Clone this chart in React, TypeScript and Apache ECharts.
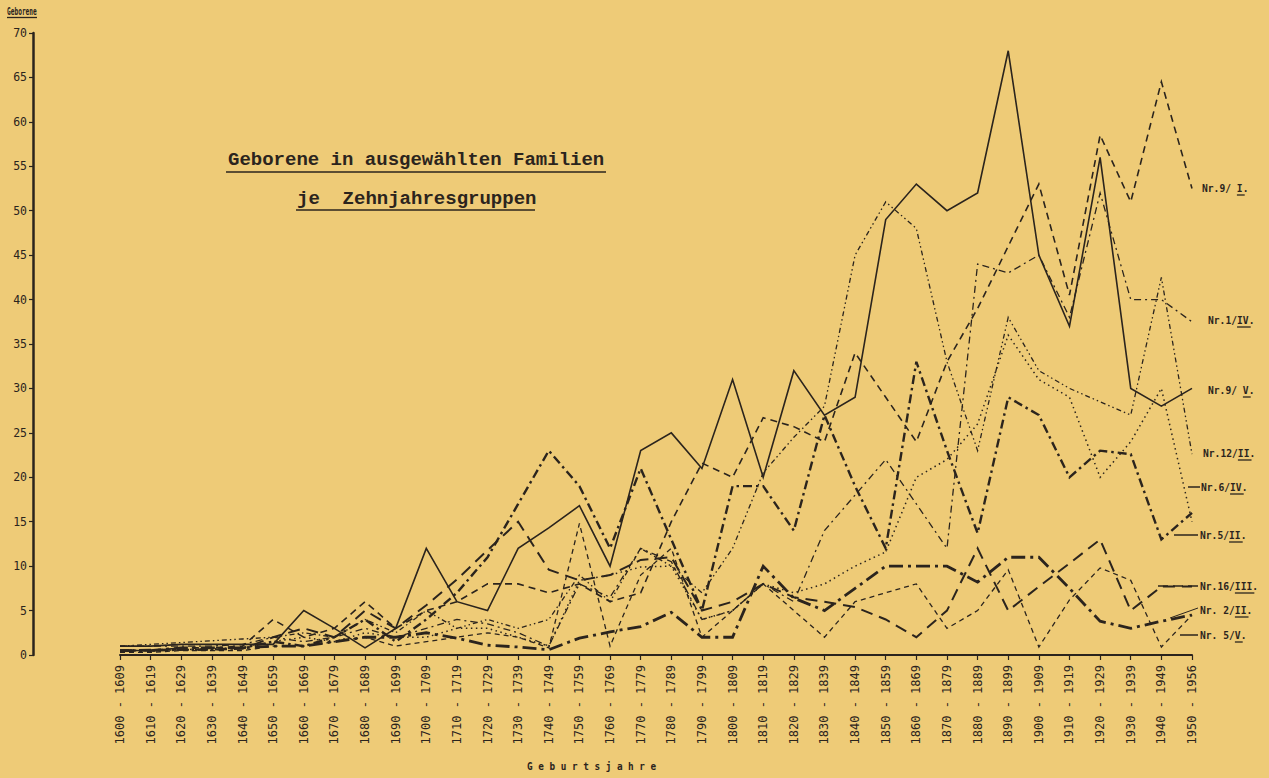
import React, { useEffect, useRef } from 'react';
import * as echarts from 'echarts';

const periods = [
  '1600 - 1609', '1610 - 1619', '1620 - 1629', '1630 - 1639', '1640 - 1649', '1650 - 1659',
  '1660 - 1669', '1670 - 1679', '1680 - 1689', '1690 - 1699', '1700 - 1709', '1710 - 1719',
  '1720 - 1729', '1730 - 1739', '1740 - 1749', '1750 - 1759', '1760 - 1769', '1770 - 1779',
  '1780 - 1789', '1790 - 1799', '1800 - 1809', '1810 - 1819', '1820 - 1829', '1830 - 1839',
  '1840 - 1849', '1850 - 1859', '1860 - 1869', '1870 - 1879', '1880 - 1889', '1890 - 1899',
  '1900 - 1909', '1910 - 1919', '1920 - 1929', '1930 - 1939', '1940 - 1949', '1950 - 1956',
];

const yTicks = [0, 70, 5]; // min, max, step

const nr9_I = [0.5, 0.5, 0.8, 0.8, 1, 4, 2, 3, 6, 3, 5, 6, 8, 8, 7, 8, 6, 7, 15, 21.6, 20, 26.7, 25.7, 24, 34, 29, 24, 33, 39, 46, 53, 40.5, 58.5, 51, 64.5, 52.5];
const nr1_IV = [1, 1, 1, 1, 1.2, 2, 1.5, 2, 3, 2, 3, 4, 3.5, 2.5, 1, 8, 6.5, 12, 10.5, 4, 5, 8, 6, 14, 18, 22, 17, 12, 44, 43, 45, 38, 52, 40, 40, 37.5];
const nr9_V = [1, 1, 1.2, 1.2, 1.2, 1.2, 5, 3, 0.8, 3, 12, 6, 5, 12, 14.3, 16.8, 10, 23, 25, 21, 31, 20, 32, 27, 29, 49, 53, 50, 52, 68, 45, 37, 56, 30, 28, 30];
const nr12_II = [1, 1.2, 1.4, 1.6, 1.8, 2, 2.5, 2, 4, 2.5, 5, 3, 4, 3, 4, 9, 6, 12, 10, 7, 12, 20.5, 24.5, 28, 45, 51, 48, 33, 23, 38, 32, 30, 28.5, 27, 42.5, 22.6];
const nr6_IV = [0.5, 0.5, 0.6, 0.7, 0.8, 1.5, 2, 1.5, 2.5, 2, 2, 3, 3, 2, 1, 8.4, 9, 9.9, 10, 4, 5, 8, 7, 8, 10, 11.6, 20, 22, 26, 36, 31, 29, 20, 24, 30, 15];
const nr5_II = [0.5, 0.5, 0.6, 0.6, 0.8, 1.5, 1, 2, 4, 1.5, 4, 7, 11, 17, 23, 19, 12, 21, 13, 5, 19, 19, 14, 27, 19, 12, 33, 23, 13.7, 29, 27, 20, 23, 22.6, 13, 16];
const nr16_III = [0.5, 0.6, 0.6, 0.6, 0.7, 2, 3, 2, 5, 3, 5.6, 8.5, 11.8, 15, 9.6, 8.4, 9, 10.7, 11, 5, 6, 8, 6.5, 6, 5.4, 4, 2, 5, 12, 5, 7.7, 10.3, 13, 5, 7.7, 7.7];
const nr2_II = [0.5, 0.5, 0.8, 0.8, 0.8, 1, 1, 1.5, 2, 2, 2.5, 1.9, 1.1, 0.9, 0.6, 1.9, 2.6, 3.2, 4.8, 2, 2, 10, 6.4, 5, 7.5, 10, 10, 10, 8.2, 11, 11, 7.5, 3.8, 3, 3.8, 4.5];
const nr5_V = [0.3, 0.3, 0.5, 0.5, 0.5, 1, 1, 1.5, 2, 1, 1.5, 2, 2.5, 2, 0.8, 14.8, 1, 9, 12, 2, 5, 8, 5, 2, 6, 7, 8, 3, 5, 9.6, 0.9, 6.2, 9.8, 8.4, 0.9, 4.5];

const seriesNames = ['Nr.9/I', 'Nr.1/IV', 'Nr.9/V', 'Nr.12/II', 'Nr.6/IV', 'Nr.5/II', 'Nr.16/III', 'Nr.2/II', 'Nr.5/V'];
const seriesValues = [nr9_I, nr1_IV, nr9_V, nr12_II, nr6_IV, nr5_II, nr16_III, nr2_II, nr5_V];

// label texts (prefix + underlined roman numeral)
const labelPrefix = ['Nr.9/ ', 'Nr.1/', 'Nr.9/ ', 'Nr.12/', 'Nr.6/', 'Nr.5/', 'Nr.16/', 'Nr. 2/', 'Nr. 5/'];
const labelRoman = ['I', 'IV', 'V', 'II', 'IV', 'II', 'III', 'II', 'V'];

const titleLine1 = 'Geborene in ausgewählten Familien';
const titleLine2 = 'je  Zehnjahresgruppen';
const yName = 'Geborene';
const xName = 'G e b u r t s j a h r e';

// ---- styles & layout ----
const BG = '#EECB77';
const INK = '#2b241d';
const MONO = "'DejaVu Sans Mono', monospace";
const TMONO = "'Liberation Mono', 'DejaVu Sans Mono', monospace";

const lineStyles: any[] = [
  { width: 1.6, type: [7, 5] },
  { width: 1.3, type: [7, 4, 2, 4] },
  { width: 1.6, type: 'solid' },
  { width: 1.3, type: [5, 3, 1.5, 3, 1.5, 3] },
  { width: 1.5, type: [1.5, 3.5] },
  { width: 2.4, type: [9, 4, 2.5, 4] },
  { width: 2.0, type: [12, 7] },
  { width: 2.8, type: [14, 5, 3, 5] },
  { width: 1.3, type: [5, 4] },
];

const labelPos = [
  [1202, 188], [1208, 320], [1208, 390], [1203, 453], [1201, 487],
  [1200, 535], [1200, 586], [1200, 610], [1200, 635],
];
const leaders: any[] = [
  null, null, null, null,
  { x1: 1188, y1: 487, x2: 1200, y2: 487 },
  { x1: 1174, y1: 535, x2: 1198, y2: 535 },
  { x1: 1158, y1: 586, x2: 1198, y2: 586, dash: [10, 5] },
  { x1: 1170, y1: 618, x2: 1198, y2: 608, thin: true },
  { x1: 1180, y1: 635, x2: 1198, y2: 635 },
];

export default function App() {
  const ref = useRef<HTMLDivElement>(null);
  useEffect(() => {
    if (!ref.current) return;
    const chart = echarts.init(ref.current, null, { renderer: 'svg' });

    const lf = 10.5;
    const lsx = 0.92;
    const cw = lf * 0.602 * lsx;
    const graphics: any[] = [];
    // y-axis name
    graphics.push({
      type: 'text', x: 7, y: 11, scaleX: 0.62,
      style: { text: yName, font: `bold 10px ${MONO}`, fill: INK, textVerticalAlign: 'middle' },
    });
    graphics.push({ type: 'line', shape: { x1: 7, y1: 17.5, x2: 37, y2: 17.5 }, style: { stroke: INK, lineWidth: 1.3 } });
    // title
    graphics.push({
      type: 'text', x: 228, y: 160,
      style: { text: titleLine1, font: `bold 19px ${TMONO}`, fill: INK, textVerticalAlign: 'middle' },
    });
    graphics.push({ type: 'line', shape: { x1: 226, y1: 172, x2: 606, y2: 172 }, style: { stroke: INK, lineWidth: 1.6 } });
    graphics.push({
      type: 'text', x: 297, y: 199,
      style: { text: titleLine2, font: `bold 19px ${TMONO}`, fill: INK, textVerticalAlign: 'middle' },
    });
    graphics.push({ type: 'line', shape: { x1: 296, y1: 210, x2: 535, y2: 210 }, style: { stroke: INK, lineWidth: 1.6 } });
    // x-axis name
    graphics.push({
      type: 'text', x: 527, y: 766, scaleX: 0.85,
      style: { text: xName, font: `bold 11px ${MONO}`, fill: INK, textVerticalAlign: 'middle' },
    });
    // series labels
    seriesNames.forEach((_, i) => {
      const [x, y] = labelPos[i];
      const txt = labelPrefix[i] + labelRoman[i] + '.';
      graphics.push({
        type: 'text', x, y, scaleX: lsx,
        style: { text: txt, font: `bold ${lf}px ${MONO}`, fill: INK, textVerticalAlign: 'middle' },
      });
      const ux1 = x + labelPrefix[i].length * cw;
      const ux2 = x + (labelPrefix[i].length + labelRoman[i].length) * cw + 2;
      graphics.push({ type: 'line', shape: { x1: ux1, y1: y + 7, x2: ux2, y2: y + 7 }, style: { stroke: INK, lineWidth: 1.3 } });
      const ld = leaders[i];
      if (ld) {
        graphics.push({
          type: 'line', shape: { x1: ld.x1, y1: ld.y1, x2: ld.x2, y2: ld.y2 },
          style: { stroke: INK, lineWidth: ld.thin ? 1 : 1.5, lineDash: ld.dash || null },
        });
      }
    });

    const option: any = {
      animation: false,
      backgroundColor: BG,
      grid: { left: 120, right: 77, top: 33, bottom: 123, containLabel: false },
      xAxis: {
        type: 'category',
        data: periods,
        boundaryGap: false,
        axisLine: { lineStyle: { color: INK, width: 2 } },
        axisTick: { show: true, length: 5, interval: 0, lineStyle: { color: INK, width: 1.2 } },
        axisLabel: { rotate: 90, interval: 0, fontSize: 12, fontFamily: MONO, color: INK, margin: 10 },
        splitLine: { show: false },
      },
      yAxis: {
        type: 'value',
        min: yTicks[0],
        max: yTicks[1],
        interval: yTicks[2],
        offset: 87,
        axisLine: { show: true, lineStyle: { color: INK, width: 2.5 } },
        axisTick: { show: true, length: 4, lineStyle: { color: INK, width: 1.2 } },
        axisLabel: { fontSize: 11.5, fontFamily: MONO, color: INK, margin: 6 },
        splitLine: { show: false },
      },
      series: seriesNames.map((name, i) => ({
        name,
        type: 'line',
        data: seriesValues[i],
        symbol: 'none',
        silent: true,
        lineStyle: { color: INK, width: lineStyles[i].width, type: lineStyles[i].type, cap: 'butt', join: 'miter' },
        z: 2,
      })),
      graphic: graphics,
    };
    chart.setOption(option);
    return () => chart.dispose();
  }, []);
  return <div ref={ref} style={{ position: 'fixed', left: 0, top: 0, width: 1269, height: 778 }} />;
}
